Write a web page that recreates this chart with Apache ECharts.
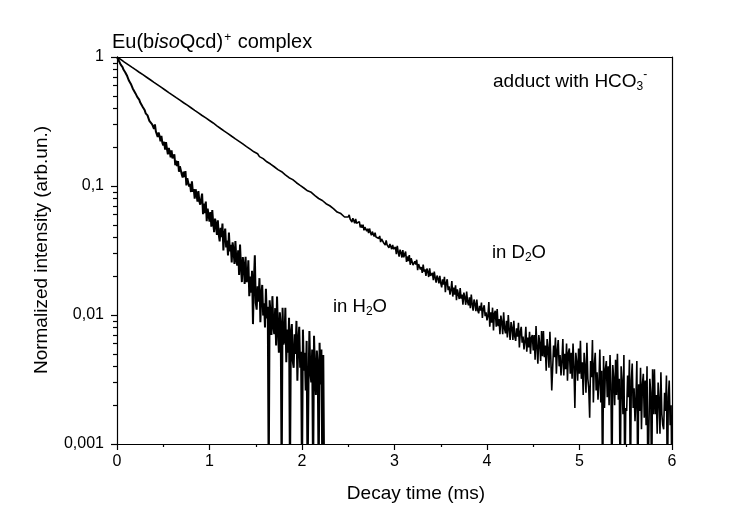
<!DOCTYPE html>
<html>
<head>
<meta charset="utf-8">
<script src="https://cdn.jsdelivr.net/npm/echarts@6/dist/echarts.min.js"></script>
<style>
  html, body { margin: 0; padding: 0; background: #fff; }
  #chart { width: 729px; height: 510px; }
</style>
</head>
<body>
<div id="chart"></div>
<script>
// Luminescence decay of the Eu(bisoQcd)+ HCO3- adduct, sampled at fixed time steps (ms)

// Normalized intensity in H2O, t = 0 … 2.24 ms, every 0.01 ms
const h2oStep = 0.01;
const h2oIntensity = [
  1.000,0.983,0.935,0.916,0.873,0.868,0.835,0.799,0.797,0.759,0.733,
  0.712,0.709,0.654,0.652,0.618,0.617,0.570,0.572,0.558,0.522,
  0.520,0.489,0.496,0.468,0.445,0.448,0.430,0.408,0.411,0.386,
  0.366,0.375,0.353,0.362,0.320,0.331,0.330,0.300,0.300,0.277,
  0.300,0.265,0.269,0.240,0.260,0.244,0.222,0.245,0.217,0.206,
  0.220,0.191,0.219,0.194,0.176,0.197,0.185,0.167,0.189,0.164,
  0.1625,0.1761,0.1448,0.1571,0.1424,0.1559,0.1289,0.1421,0.1422,0.1231,
  0.1163,0.1293,0.1171,0.1303,0.1011,0.1151,0.1189,0.0989,0.1037,0.0898,
  0.1085,0.0904,0.0946,0.0798,0.0943,0.0864,0.0755,0.0913,0.0762,0.0717,
  0.0724,0.0874,0.0604,0.0730,0.0616,0.0758,0.0534,0.0669,0.0687,0.0530,
  0.0628,0.0484,0.0651,0.0519,0.0438,0.0558,0.0505,0.0418,0.0543,0.0419,
  0.0372,0.0473,0.0401,0.0511,0.0317,0.0424,0.0467,0.0334,0.0377,0.0290,
  0.0436,0.0311,0.0350,0.0256,0.0366,0.0316,0.0249,0.0374,0.0267,0.0242,
  0.0318,0.0204,0.0351,0.0239,0.0180,0.0281,0.0240,0.0174,0.0283,0.0180,
  0.0187,0.0266,0.0140,0.0199,0.0149,0.0220,0.0085,0.0182,0.0290,0.0124,
  0.0110,0.0167,0.0127,0.0193,0.0088,0.0144,0.0171,0.0099,0.0123,0.0080,
  0.0160,0.0094,0.0116,0.0005,0.0130,0.0103,0.0070,0.0140,0.0082,0.0071,
  0.0113,0.0058,0.0139,0.0078,0.0051,0.0105,0.0085,0.0005,0.0114,0.0059,
  0.0064,0.0114,0.0043,0.0077,0.0051,0.0095,0.0005,0.0074,0.0085,0.0044,
  0.0039,0.0071,0.0050,0.0090,0.0031,0.0063,0.0081,0.0039,0.0052,0.0005,
  0.0077,0.0037,0.0051,0.0026,0.0063,0.0005,0.0028,0.0075,0.0036,0.0030,
  0.0054,0.0005,0.0069,0.0037,0.0024,0.0053,0.0042,0.0005,0.0061,0.0029,
  0.0054,0.0005,0.0049,0.0005
];

// Normalized intensity in D2O: t = 0 … 2.48 ms every 0.02 ms, then 2.50 … 6.00 ms every 0.01 ms
const d2oEarlyStep = 0.02;
const d2oEarlyIntensity = [
  1,0.975,0.957,0.932,0.914,0.890,0.874,0.850,0.835,0.812,0.798,
  0.776,0.762,0.741,0.729,0.708,0.697,0.676,0.666,0.646,0.636,
  0.617,0.608,0.589,0.581,0.563,0.555,0.538,0.530,0.514,0.507,
  0.491,0.484,0.469,0.463,0.448,0.442,0.428,0.423,0.409,0.404,
  0.391,0.386,0.373,0.369,0.357,0.352,0.341,0.337,0.326,0.322,
  0.314,0.308,0.298,0.293,0.284,0.279,0.270,0.266,0.258,0.255,
  0.248,0.243,0.236,0.232,0.225,0.222,0.215,0.212,0.205,0.202,
  0.196,0.193,0.187,0.184,0.179,0.178,0.169,0.171,0.163,0.162,
  0.154,0.156,0.148,0.147,0.141,0.143,0.134,0.135,0.129,0.128,
  0.122,0.124,0.116,0.117,0.112,0.111,0.106,0.108,0.101,0.101,
  0.0965,0.0978,0.0918,0.0930,0.0893,0.0878,0.0842,0.0855,0.0800,0.0812,
  0.0772,0.0781,0.0729,0.0748,0.0703,0.0699,0.0668,0.0680,0.0628,0.0648,
  0.0611,0.0618,0.0575,0.0592
];
const d2oLateStart = 2.5;
const d2oLateStep = 0.01;
const d2oLateIntensity = [
  0.0575,
  0.0598,0.0555,0.0565,0.0526,0.0563,0.0544,0.0514,0.0555,0.0514,0.0501,
  0.0505,0.0530,0.0477,0.0500,0.0475,0.0502,0.0453,0.0480,0.0483,0.0446,
  0.0466,0.0432,0.0468,0.0437,0.0415,0.0443,0.0429,0.0406,0.0434,0.0402,
  0.0391,0.0409,0.0392,0.0410,0.0368,0.0389,0.0393,0.0365,0.0372,0.0349,
  0.0378,0.0350,0.0357,0.0332,0.0355,0.0343,0.0324,0.0350,0.0324,0.0315,
  0.0336,0.0296,0.0344,0.0308,0.0283,0.0321,0.0305,0.0279,0.0318,0.0280,
  0.0282,0.0310,0.0258,0.0284,0.0262,0.0291,0.0245,0.0275,0.0278,0.0244,
  0.0239,0.0261,0.0246,0.0268,0.0223,0.0248,0.0256,0.0225,0.0235,0.0212,
  0.0246,0.0217,0.0226,0.0201,0.0229,0.0217,0.0197,0.0230,0.0201,0.0194,
  0.0212,0.0186,0.0217,0.0194,0.0178,0.0202,0.0192,0.0176,0.0201,0.0177,
  0.0164,0.0189,0.0172,0.0198,0.0150,0.0178,0.0189,0.0156,0.0167,0.0144,
  0.0156,0.0183,0.0139,0.0163,0.0144,0.0170,0.0130,0.0158,0.0162,0.0133,
  0.0162,0.0134,0.0144,0.0120,0.0149,0.0137,0.0120,0.0152,0.0126,0.0119,
  0.0137,0.0113,0.0144,0.0121,0.0108,0.0132,0.0122,0.0107,0.0132,0.0109,
  0.0103,0.0118,0.0108,0.0125,0.0095,0.0112,0.0119,0.0098,0.0105,0.0091,
  0.0098,0.0126,0.0081,0.0105,0.0087,0.0114,0.0076,0.0103,0.0108,0.0081,
  0.0111,0.0082,0.0093,0.0071,0.0099,0.0088,0.0071,0.0105,0.0078,0.0072,
  0.0090,0.0067,0.0100,0.0077,0.0064,0.0088,0.0079,0.0064,0.0090,0.0068,
  0.0063,0.0079,0.0068,0.0087,0.0056,0.0074,0.0081,0.0061,0.0068,0.0054,
  0.0062,0.0081,0.0052,0.0067,0.0056,0.0074,0.0050,0.0067,0.0070,0.0053,
  0.0070,0.0045,0.0082,0.0056,0.0042,0.0070,0.0060,0.0044,0.0075,0.0048,
  0.0075,0.0047,0.0058,0.0037,0.0065,0.0054,0.0039,0.0074,0.0046,0.0026,
  0.0039,0.0058,0.0047,0.0067,0.0035,0.0053,0.0064,0.0040,0.0049,0.0034,
  0.0044,0.0065,0.0034,0.0050,0.0038,0.0060,0.0031,0.0051,0.0055,0.0035,
  0.0051,0.0032,0.0060,0.0040,0.0019,0.0051,0.0043,0.0031,0.0055,0.0035,
  0.0063,0.0032,0.0043,0.0024,0.0051,0.0040,0.0025,0.0061,0.0032,0.0027,
  0.0016,0.0044,0.0033,0.0064,0.0021,0.0041,0.0051,0.0026,0.0036,0.0022,
  0.0030,0.0054,0.0021,0.0037,0.0004,0.0048,0.0019,0.0038,0.0044,0.0023,
  0.0040,0.0020,0.0049,0.0029,0.0004,0.0041,0.0032,0.0020,0.0045,0.0024,
  0.0050,0.0022,0.0032,0.0004,0.0040,0.0030,0.0017,0.0049,0.0004,0.0019,
  0.0018,0.0034,0.0023,0.0045,0.0004,0.0031,0.0042,0.0019,0.0027,0.0015,
  0.0022,0.0044,0.0004,0.0029,0.0018,0.0039,0.0013,0.0029,0.0035,0.0016,
  0.0031,0.0014,0.0040,0.0004,0.0013,0.0032,0.0025,0.0004,0.0038,0.0017,
  0.0038,0.0017,0.0024,0.0012,0.0030,0.0022,0.0012,0.0036,0.0017,0.0014,
  0.0013,0.0025,0.0018,0.0034,0.0004,0.0023,0.0031,0.0014,0.0020,0.0004
];

// Axis ticks and labels
const xTickValues = [0, 1, 2, 3, 4, 5, 6];
const yTickValues = [0.001, 0.01, 0.1, 1];
const yTickLabels = ['0,001', '0,01', '0,1', '1'];
const yMinorMultipliers = [2, 3, 4, 5, 6, 7, 8, 9];

const FONT = '"Liberation Sans", Arial, sans-serif';
const INK = '#000';

const yMinorTicks = [];
yTickValues.slice(0, -1).forEach(d => yMinorMultipliers.forEach(m => yMinorTicks.push(+(d * m).toPrecision(3))));

const toPairs = (vals, start, step) => vals.map((v, i) => [+(start + i * step).toFixed(3), v]);

const h2oData = toPairs(h2oIntensity, 0, h2oStep);
const d2oData = toPairs(d2oEarlyIntensity, 0, d2oEarlyStep)
  .concat(toPairs(d2oLateIntensity, d2oLateStart, d2oLateStep));

const chart = echarts.init(document.getElementById('chart'), null, { renderer: 'canvas' });

const axisLine = { show: true, onZero: false, lineStyle: { color: INK, width: 1.2 } };
const tickLine = { color: INK, width: 1.2 };

const label = (size) => ({ fontSize: size, fontFamily: FONT, fill: INK, padding: [6, 0, 0, 0], verticalAlign: 'top' });
const small = (padTop) => ({ fontSize: 12, fontFamily: FONT, fill: INK, padding: [padTop, 0, 0, 0], verticalAlign: 'top' });

const option = {
  animation: false,
  backgroundColor: '#fff',
  grid: { left: 117, right: 57, top: 57, bottom: 66, containLabel: false },
  xAxis: [
    {
      type: 'value', min: xTickValues[0], max: xTickValues[xTickValues.length - 1], interval: 1,
      position: 'bottom',
      axisLine,
      axisTick: { show: true, inside: false, length: 6, lineStyle: tickLine },
      minorTick: { show: true, splitNumber: 2, length: 3, lineStyle: tickLine },
      splitLine: { show: false },
      axisLabel: { color: INK, fontSize: 16, fontFamily: FONT, margin: 10 }
    },
    {
      type: 'value', min: 0, max: 6, position: 'top',
      axisLine, axisTick: { show: false }, axisLabel: { show: false }, splitLine: { show: false }
    }
  ],
  yAxis: [
    {
      type: 'log', logBase: 10, min: yTickValues[0], max: yTickValues[yTickValues.length - 1],
      position: 'left',
      axisLine,
      axisTick: { show: true, inside: false, length: 6, lineStyle: tickLine },
      splitLine: { show: false },
      axisLabel: {
        color: INK, fontSize: 16, fontFamily: FONT, margin: 13,
        formatter: v => {
          const i = yTickValues.findIndex(t => Math.abs(Math.log10(t / v)) < 1e-6);
          return i >= 0 ? yTickLabels[i] : '';
        }
      }
    },
    {
      type: 'log', logBase: 10, min: 0.001, max: 1, position: 'left',
      axisLine: { show: false },
      axisTick: { show: true, inside: false, length: 4, customValues: yMinorTicks, lineStyle: tickLine },
      axisLabel: { show: false }, splitLine: { show: false }
    },
    {
      type: 'log', logBase: 10, min: 0.001, max: 1, position: 'right',
      axisLine, axisTick: { show: false }, axisLabel: { show: false }, splitLine: { show: false }
    }
  ],
  series: [
    {
      name: 'in H2O', type: 'line', xAxisIndex: 0, yAxisIndex: 0,
      data: h2oData,
      showSymbol: false, symbol: 'none', clip: true,
      lineStyle: { color: INK, width: 2 }
    },
    {
      name: 'in D2O', type: 'line', xAxisIndex: 0, yAxisIndex: 0,
      data: d2oData,
      showSymbol: false, symbol: 'none', clip: true,
      lineStyle: { color: INK, width: 1.6 }
    }
  ],
  graphic: [
    {
      type: 'text', left: 112, top: 32,
      style: {
        text: '{n|Eu(b}{i|iso}{n|Qcd)}{sup|+}{n| complex}',
        fill: INK, font: '20px ' + FONT,
        rich: {
          n: label(20),
          i: Object.assign(label(20), { fontStyle: 'italic' }),
          sup: Object.assign(small(6), { padding: [6, 1, 0, 1] })
        }
      }
    },
    {
      type: 'text', left: 493, top: 69,
      style: {
        text: '{n|adduct with HCO}{sub|3}{sup|-}',
        fill: INK, font: '19px ' + FONT,
        rich: { n: label(19), sub: small(15), sup: small(3) }
      }
    },
    {
      type: 'text', left: 492, top: 243,
      style: {
        text: '{n|in D}{sub|2}{n|O}',
        fill: INK, font: '18px ' + FONT,
        rich: { n: label(18.5), sub: small(15) }
      }
    },
    {
      type: 'text', left: 333, top: 297,
      style: {
        text: '{n|in H}{sub|2}{n|O}',
        fill: INK, font: '18px ' + FONT,
        rich: { n: label(18.5), sub: small(15) }
      }
    },
    {
      type: 'text', x: 416, y: 494,
      style: { text: 'Decay time (ms)', fill: INK, font: '19px ' + FONT, align: 'center', verticalAlign: 'middle' }
    },
    {
      type: 'text', x: 42, y: 250, rotation: Math.PI / 2,
      style: { text: 'Normalized intensity (arb.un.)', fill: INK, font: '19px ' + FONT, align: 'center', verticalAlign: 'middle' }
    }
  ]
};

chart.setOption(option);
</script>
</body>
</html>
